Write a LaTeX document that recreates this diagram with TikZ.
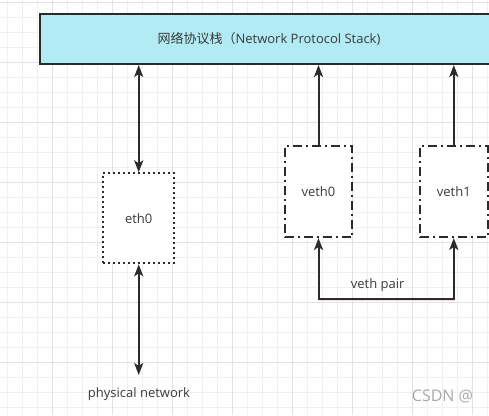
\documentclass[tikz,border=0pt]{standalone}
\usepackage{fontspec}
\setmainfont{Open Sans}
\newfontfamily\cjk{Noto Sans CJK SC}
\usetikzlibrary{arrows.meta}
\definecolor{gridminor}{HTML}{F0F0F0}
\definecolor{gridmajor}{HTML}{E2E2E2}
\definecolor{ink}{HTML}{2B2B2B}
\definecolor{txt}{HTML}{3A3A3A}
\definecolor{stackfill}{HTML}{B2EBF3}
\definecolor{wmark}{HTML}{A8A8A8}
\tikzset{
  lbl/.style={text=txt, font=\fontsize{13}{15}\selectfont, inner sep=0pt},
  stackbox/.style={draw=ink, fill=stackfill, line width=2pt, anchor=north west, lbl},
  ethbox/.style={draw=ink, fill=white, line width=2pt, dash pattern=on 2pt off 3pt, lbl},
  vethbox/.style={draw=ink, fill=white, line width=2pt, dash pattern=on 9pt off 4pt on 2pt off 4pt, lbl},
  conn/.style={draw=ink, line width=2pt, arrows={-Stealth[length=12pt,width=9pt,inset=3pt]}},
  bconn/.style={draw=ink, line width=2pt, arrows={Stealth[length=12pt,width=9pt,inset=3pt]-Stealth[length=12pt,width=9pt,inset=3pt]}}
}
\begin{document}
\begin{tikzpicture}[x=1pt,y=-1pt]
\clip (0,0) rectangle (489,415);
\fill[white] (0,0) rectangle (489,415);
% grid
\foreach \k in {0,...,32} {\draw[gridminor, line width=1pt] (7.3+15*\k,0) -- (7.3+15*\k,415);}
\foreach \k in {0,...,27} {\draw[gridminor, line width=1pt] (0,2.3+15*\k) -- (489,2.3+15*\k);}
\foreach \k in {3,7,...,31} {\draw[gridmajor, line width=1pt] (7.3+15*\k,0) -- (7.3+15*\k,415);}
\foreach \k in {0,4,...,24} {\draw[gridmajor, line width=1pt] (0,2.3+15*\k) -- (489,2.3+15*\k);}
% nodes
\node[stackbox, minimum width=459pt, minimum height=50pt] (stack) at (38.5,13) {{\cjk 网络协议栈（}Network Protocol Stack)};
\node[ethbox, minimum width=71pt, minimum height=90pt] (eth0) at (138.7,218.3) {eth0};
\node[vethbox, minimum width=67.6pt, minimum height=91pt] (veth0) at (318.5,191.5) {veth0};
\node[vethbox, minimum width=67.6pt, minimum height=91pt] (veth1) at (453.8,191.5) {veth1};
\coordinate (phys) at (138.7,375);
\coordinate (pair) at (385,299.3);
\node[lbl] (physlbl) at (139,394) {physical network};
\node[lbl] (pairlbl) at (377.7,285) {veth pair};
\node[text=wmark, font=\fontsize{16}{18}\selectfont, inner sep=0pt, anchor=west] (wm) at (411.7,396.7) {CSDN @};
% connectors
\draw[bconn] (stack.south -| eth0.north) -- (eth0.north);
\draw[bconn] (eth0.south) -- (phys);
\draw[conn] (veth0.north) -- (veth0.north |- stack.south);
\draw[conn] (veth1.north) -- (veth1.north |- stack.south);
\draw[red!15, line width=3.2pt] (veth0.south |- pair) -- (veth1.south |- pair);
\draw[bconn, line join=miter] (veth0.south) -- (veth0.south |- pair) -- (veth1.south |- pair) -- (veth1.south);
\end{tikzpicture}
\end{document}
